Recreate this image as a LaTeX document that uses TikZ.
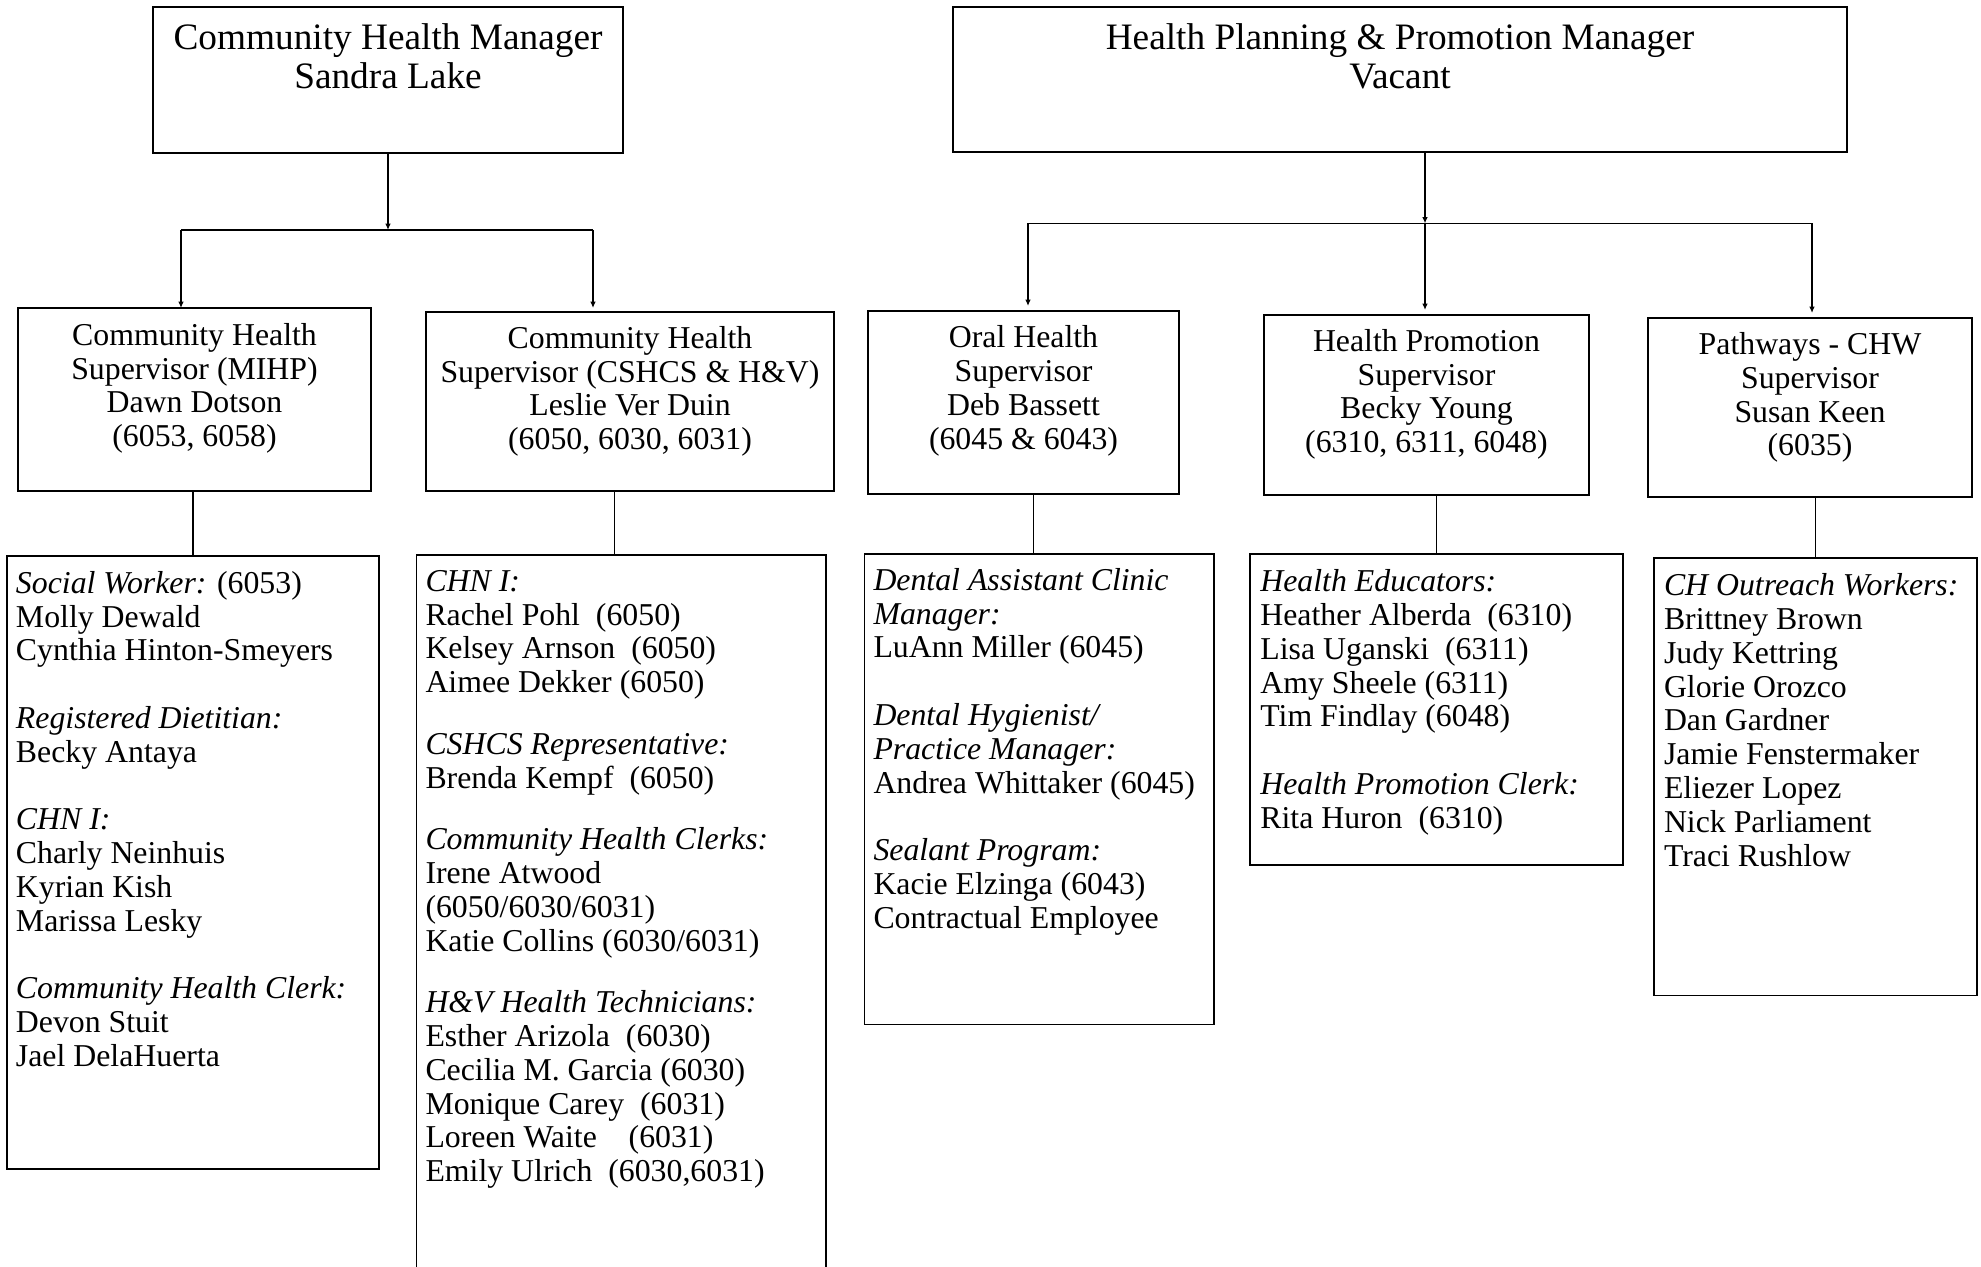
\documentclass[tikz,border=0pt]{standalone}
\usepackage{fontspec}
\setmainfont{Liberation Serif}
\usetikzlibrary{arrows.meta}

\begin{document}
\begin{tikzpicture}[x=.5pt,y=-.5pt,
  head/.style={draw=black,line width=1.1pt,inner sep=0pt,outer sep=0pt,anchor=north west},
  sup/.style={draw=black,line width=1.1pt,inner sep=0pt,outer sep=0pt,anchor=north west},
  staff/.style={draw=black,line width=0.85pt,inner sep=0pt,outer sep=0pt,anchor=north west},
  headtext/.style={inner sep=0pt,anchor=north,align=center,font=\fontsize{18.65}{19.75}\selectfont,execute at begin node=\strut},
  suptext/.style={inner sep=0pt,anchor=north,align=center,font=\fontsize{15.9}{16.9}\selectfont,execute at begin node=\strut},
  stafftext/.style={inner sep=0pt,anchor=north west,align=left,font=\fontsize{15.9}{16.9}\selectfont,execute at begin node=\strut},
  link/.style={draw=black,line width=0.65pt},
  arr/.style={link,-{Latex[length=3.2pt,width=2.8pt]}}]
\path[use as bounding box] (0,0) rectangle (1981,1267);
\clip (0,0) rectangle (1981,1267);
\fill[white] (0,0) rectangle (1981,1267);

% managers
\node[head,minimum width=235pt,minimum height=73pt] (chm) at (153,7) {};
\node[headtext] (chmtxt) at ([yshift=-8.1pt]chm.north) {Community Health Manager\\Sandra Lake};
\node[head,minimum width=447pt,minimum height=72.5pt] (hppm) at (953,7) {};
\node[headtext] (hppmtxt) at ([yshift=-8.1pt]hppm.north) {Health Planning \& Promotion Manager\\Vacant};

% supervisors
\node[sup,minimum width=176.5pt,minimum height=91.5pt] (mihp) at (18,308) {};
\node[suptext] (mihptxt) at ([yshift=-7.4pt]mihp.north) {Community Health\\Supervisor (MIHP)\\Dawn Dotson\\(6053, 6058)};
\node[sup,minimum width=204pt,minimum height=89.5pt] (cshcs) at (426,312) {};
\node[suptext] (cshcstxt) at ([yshift=-6.9pt]cshcs.north) {Community Health\\Supervisor (CSHCS \& H\&V)\\Leslie Ver Duin\\(6050, 6030, 6031)};
\node[sup,minimum width=155.5pt,minimum height=91.5pt] (oral) at (868,311) {};
\node[suptext] (oraltxt) at ([yshift=-7.2pt]oral.north) {Oral Health\\Supervisor\\Deb Bassett\\(6045 \& 6043)};
\node[sup,minimum width=162.5pt,minimum height=90pt] (hprom) at (1264,315) {};
\node[suptext] (hpromtxt) at ([yshift=-6.9pt]hprom.north) {Health Promotion\\Supervisor\\Becky Young\\(6310, 6311, 6048)};
\node[sup,minimum width=162pt,minimum height=89.5pt] (pathw) at (1648,318) {};
\node[suptext] (pathwtxt) at ([yshift=-7pt]pathw.north) {Pathways - CHW\\Supervisor\\Susan Keen\\(6035)};

% staff lists
\node[staff,minimum width=186pt,minimum height=306.5pt] (mihpstaff) at (7,556) {};
\node[stafftext] (mihplist) at ([xshift=4.3pt,yshift=-7.4pt]mihpstaff.north west) {%
  {\itshape Social Worker:} (6053)\\Molly Dewald\\Cynthia Hinton-Smeyers\\[16.9pt]
  \textit{Registered Dietitian:}\\Becky Antaya\\[16.9pt]
  \textit{CHN I:}\\Charly Neinhuis\\Kyrian Kish\\Marissa Lesky\\[16.9pt]
  \textit{Community Health Clerk:}\\Devon Stuit\\Jael DelaHuerta};
\node[staff,minimum width=204.75pt,minimum height=370pt] (cshcsstaff) at (416.5,555) {};
\node[stafftext] (cshcslist) at ([xshift=4.3pt,yshift=-7.4pt]cshcsstaff.north west) {%
  \textit{CHN I:}\\Rachel Pohl\ \ (6050)\\Kelsey Arnson\ \ (6050)\\Aimee Dekker (6050)\\[13.9pt]
  \textit{CSHCS Representative:}\\Brenda Kempf\ \ (6050)\\[13.9pt]
  \textit{Community Health Clerks:}\\Irene Atwood\\(6050/6030/6031)\\Katie Collins (6030/6031)\\[13.9pt]
  \textit{H\&V Health Technicians:}\\Esther Arizola\ \ (6030)\\Cecilia M. Garcia (6030)\\Monique Carey\ \ (6031)\\Loreen Waite\ \ \ \ (6031)\\Emily Ulrich\ \ (6030,6031)};
\node[staff,minimum width=174.75pt,minimum height=235.3pt] (oralstaff) at (864.5,554) {};
\node[stafftext] (orallist) at ([xshift=4.3pt,yshift=-6.9pt]oralstaff.north west) {%
  \textit{Dental Assistant Clinic}\\\textit{Manager:}\\LuAnn Miller (6045)\\[16.9pt]
  \textit{Dental Hygienist/}\\\textit{Practice Manager:}\\Andrea Whittaker (6045)\\[16.9pt]
  \textit{Sealant Program:}\\Kacie Elzinga (6043)\\Contractual Employee};
\node[staff,minimum width=186.5pt,minimum height=155.5pt] (hpromstaff) at (1250,554) {};
\node[stafftext] (hpromlist) at ([xshift=5pt,yshift=-7.6pt]hpromstaff.north west) {%
  \textit{Health Educators:}\\Heather Alberda\ \ (6310)\\Lisa Uganski\ \ (6311)\\Amy Sheele (6311)\\Tim Findlay (6048)\\[16.9pt]
  \textit{Health Promotion Clerk:}\\Rita Huron\ \ (6310)};
\node[staff,minimum width=161.5pt,minimum height=218.8pt] (pathwstaff) at (1654,558) {};
\node[stafftext] (pathwlist) at ([xshift=4.8pt,yshift=-7.6pt]pathwstaff.north west) {%
  \textit{CH Outreach Workers:}\\Brittney Brown\\Judy Kettring\\Glorie Orozco\\Dan Gardner\\Jamie Fenstermaker\\Eliezer Lopez\\Nick Parliament\\Traci Rushlow};

% connectors, left group
\coordinate (lbarL) at (181,230);
\coordinate (lbarR) at (593,230);
\draw[arr] (chm.south) -- (chm.south |- lbarL);
\draw[link] (lbarL) -- (lbarR);
\draw[arr] (lbarL) -- (lbarL |- mihp.north);
\draw[arr,shorten >=2pt] (lbarR) -- (lbarR |- cshcs.north);

% connectors, right group
\coordinate (rbarL) at (1028,223.5);
\coordinate (rbarM) at (1425,223.5);
\coordinate (rbarR) at (1812,223.5);
\draw[arr] (hppm.south -| rbarM) -- (rbarM);
\draw[link] (rbarL) -- (rbarR);
\foreach \c/\b in {rbarL/oral, rbarM/hprom, rbarR/pathw}
  \draw[arr,shorten >=2.5pt] (\c) -- (\c |- \b.north);

% stems down to the staff lists
\foreach \grp/\dx in {mihp/0, cshcs/-3.5, oral/-3, hprom/0, pathw/0}{
  \coordinate (\grp stem) at ([xshift=\dx pt]\grp staff.north);
  \draw[link] (\grp stem |- \grp.south) -- (\grp stem);
}
\end{tikzpicture}
\end{document}
